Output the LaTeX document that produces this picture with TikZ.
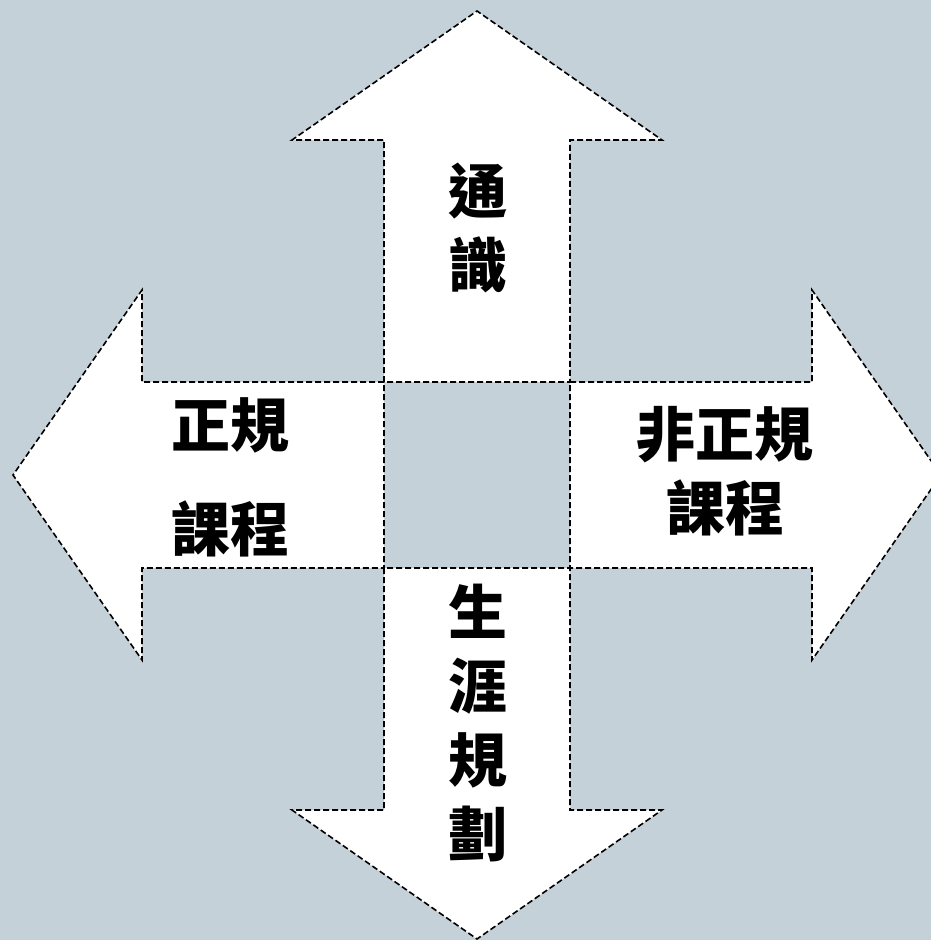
\documentclass[tikz,border=0pt]{standalone}
\usepackage{fontspec}
\newfontfamily\cjk{Noto Sans CJK TC}
\definecolor{bg}{RGB}{197,209,216}
\begin{document}
\begin{tikzpicture}[x=1pt,y=-1pt,
  arrowshape/.style={fill=white,draw=black,line width=1.6pt,dash pattern=on 6pt off 3pt,line join=miter},
  lbl/.style={font=\cjk\bfseries\fontsize{59}{74}\selectfont,align=center,inner sep=0pt}]
\useasboundingbox (0,0) rectangle (931,940);
\clip (0,0) rectangle (931,940);
\fill[bg] (0,0) rectangle (931,940);
% top arrow
\draw[arrowshape] (384,382) -- (384,140) -- (292,140) -- (477,11) -- (662,140) -- (570,140) -- (570,382) -- cycle;
% left arrow
\draw[arrowshape] (384,382) -- (142,382) -- (142,290) -- (13,475) -- (142,660) -- (142,568) -- (384,568) -- cycle;
% right arrow
\draw[arrowshape] (570,382) -- (812,382) -- (812,290) -- (941,475) -- (812,660) -- (812,568) -- (570,568) -- cycle;
% bottom arrow
\draw[arrowshape] (384,568) -- (384,810) -- (292,810) -- (477,939) -- (662,810) -- (570,810) -- (570,568) -- cycle;
% labels
\node[lbl] (top) at (478,228) {通\\識};
\node[lbl,font=\cjk\bfseries\fontsize{59}{104}\selectfont] (left) at (230,477) {正規\\課程};
\node[lbl] (right) at (725,471) {非正規\\課程};
\node[lbl] (bottom) at (478,723) {生\\涯\\規\\劃};
\end{tikzpicture}
\end{document}
